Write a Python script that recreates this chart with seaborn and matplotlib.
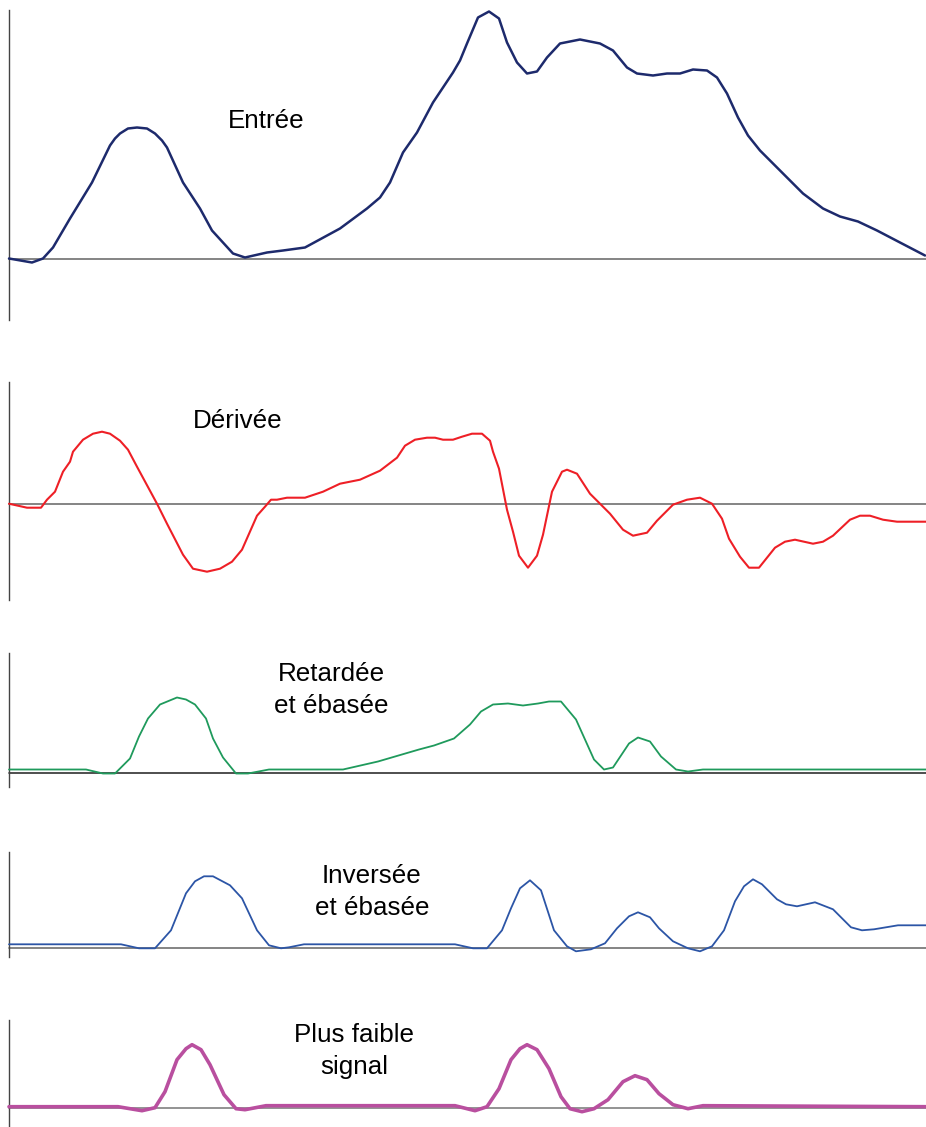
import matplotlib
matplotlib.use("Agg")
import matplotlib.pyplot as plt
import seaborn as sns
import pandas as pd

sns.set_style("white")
plt.rcParams['font.family'] = ['Liberation Sans', 'DejaVu Sans']

# ---- data (time index, amplitude) ----
entree_t = [0, 23, 34, 44, 61, 83, 101, 106, 111, 119, 128, 138, 146, 153, 158, 174, 191, 203, 224, 236,
            258, 274, 296, 331, 358, 371, 381, 394, 408, 424, 444, 451, 458, 469, 480, 490, 498, 508,
            518, 528, 538, 551, 571, 591, 604, 618, 628, 644, 658, 671, 684, 698, 708, 718, 729, 739,
            751, 771, 794, 814, 831, 849, 868, 891, 916]
entree_v = [0, -4, 0, 11, 40, 76, 113, 120, 125, 130, 131, 130, 125, 118, 111, 76, 50, 28, 5, 1,
            6, 8, 11, 30, 50, 61, 76, 106, 126, 156, 186, 198, 215, 241, 247, 240, 216, 196,
            185, 187, 201, 215, 219, 215, 208, 191, 185, 183, 185, 185, 189, 188, 181, 165, 141, 123,
            108, 88, 65, 50, 42, 37, 28, 16, 3]

derivee_t = [0, 18, 32, 38, 46, 54, 61, 64, 74, 84, 93, 101, 111, 119, 128, 148, 158, 174, 184, 198,
             211, 223, 233, 248, 256, 262, 268, 278, 296, 314, 331, 351, 371, 388, 396, 406, 418, 426,
             434, 444, 453, 463, 473, 481, 484, 490, 498, 504, 510, 519, 528, 534, 543, 549, 553, 558,
             568, 581, 601, 614, 624, 638, 648, 664, 678, 691, 703, 713, 720, 731, 740, 750, 766, 776,
             786, 804, 814, 824, 841, 851, 861, 874, 888, 917]
derivee_v = [0, -4, -4, 4, 12, 32, 42, 52, 64, 70, 72, 70, 63, 54, 37, 0, -20, -51, -65, -68,
             -65, -58, -46, -12, -3, 4, 4, 6, 6, 12, 20, 24, 33, 46, 58, 64, 66, 66,
             64, 64, 67, 70, 70, 63, 52, 35, -6, -28, -52, -64, -52, -31, 12, 24, 32, 34,
             30, 10, -10, -26, -32, -29, -17, -1, 4, 6, 0, -15, -35, -53, -64, -64, -44, -38,
             -36, -40, -38, -32, -16, -12, -12, -16, -18, -18]

retardee_t = [0, 77, 94, 106, 121, 130, 139, 151, 168, 177, 186, 197, 204, 214, 227, 239, 260, 334,
              369, 410, 425, 445, 461, 472, 484, 499, 514, 529, 540, 552, 567, 576, 585, 595, 604,
              620, 629, 641, 652, 667, 679, 694, 917]
retardee_v = [3, 3, -1, -1, 14, 36, 54, 68, 75, 73, 68, 54, 34, 15, -1, -1, 3, 3,
              11, 23, 27, 34, 48, 61, 68, 69, 67, 69, 71, 71, 53, 33, 13, 3, 5,
              29, 35, 31, 16, 3, 1, 3, 3]

inversee_t = [0, 112, 130, 146, 162, 177, 186, 195, 204, 221, 233, 248, 260, 272, 280, 295, 446,
              464, 478, 493, 502, 511, 521, 532, 545, 558, 567, 582, 596, 608, 620, 629, 641, 650,
              664, 679, 691, 703, 715, 726, 735, 744, 753, 768, 777, 788, 806, 824, 842, 853, 865,
              889, 917]
inversee_v = [4, 4, 0, 0, 18, 55, 67, 72, 72, 63, 50, 18, 3, 0, 1, 4, 4,
              0, 0, 18, 40, 60, 68, 58, 18, 2, -3, -1, 5, 20, 32, 36, 31, 20,
              7, 0, -3, 2, 18, 47, 62, 69, 64, 49, 44, 42, 46, 39, 21, 18, 19,
              23, 23]

faible_t = [0, 109, 133, 146, 156, 168, 177, 183, 192, 201, 215, 227, 236, 257, 446, 466, 478, 490,
            502, 511, 518, 528, 540, 552, 561, 573, 585, 599, 614, 626, 638, 650, 664, 679, 694, 917]
faible_v = [1, 1, -3, 0, 16, 48, 59, 63, 58, 43, 13, -1, -2, 2, 2, -3, 1, 19,
            48, 59, 63, 58, 39, 11, -1, -4, -1, 8, 26, 32, 28, 14, 3, -1, 2, 1]

labels = ["Entrée", "Dérivée", "Retardée\net ébasée", "Inversée\net ébasée", "Plus faible\nsignal"]
series = [(entree_t, entree_v), (derivee_t, derivee_v), (retardee_t, retardee_v),
          (inversee_t, inversee_v), (faible_t, faible_v)]

# ---- layout (pixels) ----
W, H = 926, 1127
fig = plt.figure(figsize=(W / 100, H / 100), dpi=100)
fig.patch.set_facecolor("white")

panels = [  # top, bottom, baseline (px)
    (10, 320, 258.5),
    (382, 600, 503.7),
    (653, 787, 772.5),
    (852, 957, 948.3),
    (1020, 1127, 1107.7),
]
colors = ["#1d2a6c", "#ee1f26", "#1f9a5c", "#2c55a6", "#b94f9f"]
widths = [1.8, 1.5, 1.3, 1.3, 2.6]
baseline_colors = ["#707070", "#707070", "#303030", "#707070", "#808080"]
text_pos = [(266, 121), (238, 421), (331, 690), (372, 892), (354, 1051)]

left_px, right_px = 9, 926
for i, ((top, bot, base), (t, v)) in enumerate(zip(panels, series)):
    ax = fig.add_axes([left_px / W, 1 - bot / H, (right_px - left_px) / W, (bot - top) / H])
    ax.set_facecolor("none")
    df = pd.DataFrame({"t": t, "v": v})
    sns.lineplot(data=df, x="t", y="v", ax=ax, color=colors[i], lw=widths[i],
                 sort=False, estimator=None, clip_on=False, zorder=3)
    ax.axhline(0, color=baseline_colors[i], lw=1.2, zorder=2, clip_on=False)
    ax.set_xlim(0, right_px - left_px)
    ax.set_ylim(base - bot, base - top)
    for s in ["top", "right", "bottom"]:
        ax.spines[s].set_visible(False)
    ax.spines["left"].set_color("#444444")
    ax.spines["left"].set_linewidth(1.0)
    ax.set_xticks([])
    ax.set_yticks([])
    ax.set_xlabel("")
    ax.set_ylabel("")
    tx, ty = text_pos[i]
    fig.text(tx / W, 1 - ty / H, labels[i], ha="center", va="center",
             fontsize=18.7, color="black", linespacing=1.38)

fig.savefig("out.png", dpi=100, facecolor="white")
